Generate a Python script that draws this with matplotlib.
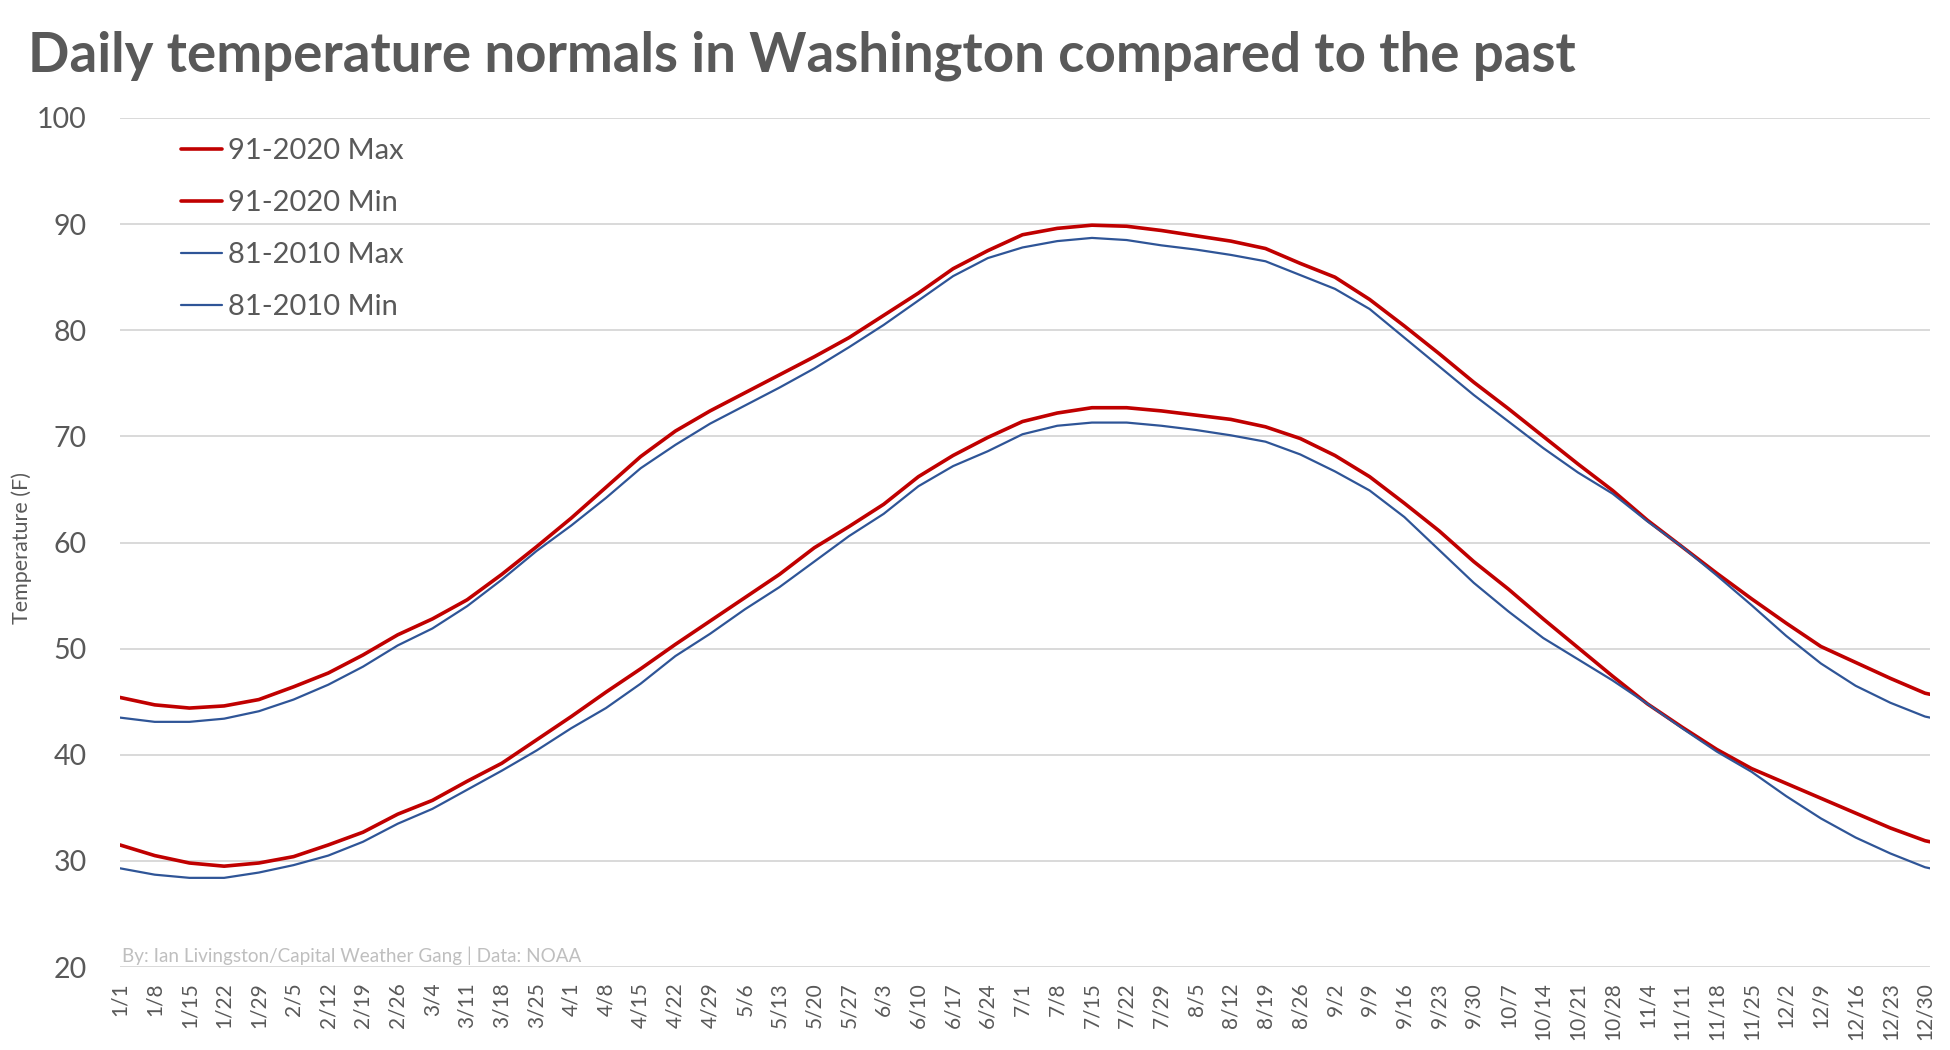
import matplotlib
matplotlib.use("Agg")
import matplotlib.pyplot as plt

plt.rcParams['font.family'] = ['Lato', 'DejaVu Sans']

# ---- data (one value every 7 days + Dec 31) ----
days = [0, 7, 14, 21, 28, 35, 42, 49, 56, 63, 70, 77, 84,
        91, 98, 105, 112, 119, 126, 133, 140, 147, 154, 161, 168, 175, 182,
        189, 196, 203, 210, 217, 224, 231, 238, 245, 252, 259, 266,
        273, 280, 287, 294, 301, 308, 315, 322, 329, 336, 343, 350, 357, 364,
        365]

max_9120 = [45.4, 44.7, 44.4, 44.6, 45.2, 46.4, 47.7, 49.4, 51.3, 52.8, 54.6, 57.0, 59.6,
            62.3, 65.2, 68.1, 70.5, 72.4, 74.1, 75.8, 77.5, 79.3, 81.4, 83.5, 85.8, 87.5, 89.0,
            89.6, 89.9, 89.8, 89.4, 88.9, 88.4, 87.7, 86.3, 85.0, 82.9, 80.4, 77.8,
            75.1, 72.6, 70.0, 67.4, 64.9, 62.1, 59.6, 57.1, 54.7, 52.4, 50.2, 48.7, 47.2, 45.8,
            45.7]

min_9120 = [31.5, 30.5, 29.8, 29.5, 29.8, 30.4, 31.5, 32.7, 34.4, 35.7, 37.5, 39.2, 41.4,
            43.6, 45.9, 48.1, 50.4, 52.6, 54.8, 57.0, 59.5, 61.5, 63.6, 66.2, 68.2, 69.9, 71.4,
            72.2, 72.7, 72.7, 72.4, 72.0, 71.6, 70.9, 69.8, 68.2, 66.2, 63.7, 61.1,
            58.2, 55.6, 52.8, 50.1, 47.4, 44.8, 42.6, 40.5, 38.7, 37.3, 35.9, 34.5, 33.1, 31.9,
            31.8]

max_8110 = [43.5, 43.1, 43.1, 43.4, 44.1, 45.2, 46.6, 48.3, 50.3, 51.9, 54.0, 56.5, 59.2,
            61.6, 64.2, 67.0, 69.2, 71.2, 72.9, 74.6, 76.4, 78.4, 80.5, 82.8, 85.1, 86.8, 87.8,
            88.4, 88.7, 88.5, 88.0, 87.6, 87.1, 86.5, 85.2, 83.9, 82.0, 79.3, 76.6,
            73.9, 71.4, 68.9, 66.6, 64.6, 62.0, 59.6, 56.9, 54.1, 51.2, 48.6, 46.5, 44.9, 43.6,
            43.5]

min_8110 = [29.3, 28.7, 28.4, 28.4, 28.9, 29.6, 30.5, 31.8, 33.5, 34.9, 36.7, 38.5, 40.4,
            42.5, 44.4, 46.7, 49.3, 51.4, 53.7, 55.8, 58.2, 60.6, 62.7, 65.3, 67.2, 68.6, 70.2,
            71.0, 71.3, 71.3, 71.0, 70.6, 70.1, 69.5, 68.3, 66.7, 64.9, 62.4, 59.3,
            56.2, 53.5, 51.0, 49.0, 47.0, 44.8, 42.5, 40.3, 38.4, 36.1, 34.0, 32.2, 30.7, 29.4,
            29.3]

tick_days = list(range(0, 365, 7))
tick_labels = ["1/1", "1/8", "1/15", "1/22", "1/29", "2/5", "2/12", "2/19", "2/26",
               "3/4", "3/11", "3/18", "3/25", "4/1", "4/8", "4/15", "4/22", "4/29",
               "5/6", "5/13", "5/20", "5/27", "6/3", "6/10", "6/17", "6/24",
               "7/1", "7/8", "7/15", "7/22", "7/29", "8/5", "8/12", "8/19", "8/26",
               "9/2", "9/9", "9/16", "9/23", "9/30", "10/7", "10/14", "10/21", "10/28",
               "11/4", "11/11", "11/18", "11/25", "12/2", "12/9", "12/16", "12/23", "12/30"]

y_ticks = [20, 30, 40, 50, 60, 70, 80, 90, 100]

title = "Daily temperature normals in Washington compared to the past"
credit = "By: Ian Livingston/Capital Weather Gang | Data: NOAA"

RED = "#C00000"
BLUE = "#2F5597"
GREY = "#595959"

W, H = 1950, 1050
fig = plt.figure(figsize=(W / 100, H / 100), dpi=100)
ax = fig.add_axes([120 / W, 83 / H, 1810 / W, 849 / H])

l1, = ax.plot(days, max_9120, color=RED, lw=2.6, solid_capstyle='round', label="91-2020 Max")
l2, = ax.plot(days, min_9120, color=RED, lw=2.6, solid_capstyle='round', label="91-2020 Min")
l3, = ax.plot(days, max_8110, color=BLUE, lw=1.6, solid_capstyle='round', label="81-2010 Max")
l4, = ax.plot(days, min_8110, color=BLUE, lw=1.6, solid_capstyle='round', label="81-2010 Min")

ax.set_xlim(0, 365)
ax.set_ylim(20, 100)
ax.set_yticks(y_ticks)
ax.set_xticks(tick_days)
ax.set_xticklabels(tick_labels, rotation=90, fontsize=15, color=GREY)
ax.tick_params(axis='y', labelsize=20.5, labelcolor=GREY, length=0, pad=24)
ax.tick_params(axis='x', length=0, pad=11)
ax.grid(axis='y', color='#D9D9D9', lw=1.4)
ax.set_axisbelow(True)
for s in ax.spines.values():
    s.set_visible(False)

leg = ax.legend(handles=[l1, l2, l3, l4], loc='upper left',
                bbox_to_anchor=(181 / W, 1 - 138 / H), bbox_transform=fig.transFigure,
                frameon=False, fontsize=21, handlelength=1.42, handletextpad=0.2,
                labelspacing=0.89, borderpad=0, borderaxespad=0)
for t in leg.get_texts():
    t.set_color(GREY)

fig.text(22 / W, 1 - 548 / H, "Temperature (F)", rotation=90, ha='center', va='center',
         fontsize=15.5, color=GREY)
fig.text(122 / W, 1 - 956 / H, credit, ha='left', va='center', fontsize=13.6, color='#BFBFBF')

tt = fig.text(28 / W, 1 - 56 / H, title, ha='left', va='center', fontsize=38,
              fontweight='bold', color=GREY)
fig.canvas.draw()
bw = tt.get_window_extent().width
tt.set_fontsize(38 * 1550 / bw)

fig.savefig("out.png", dpi=100)
